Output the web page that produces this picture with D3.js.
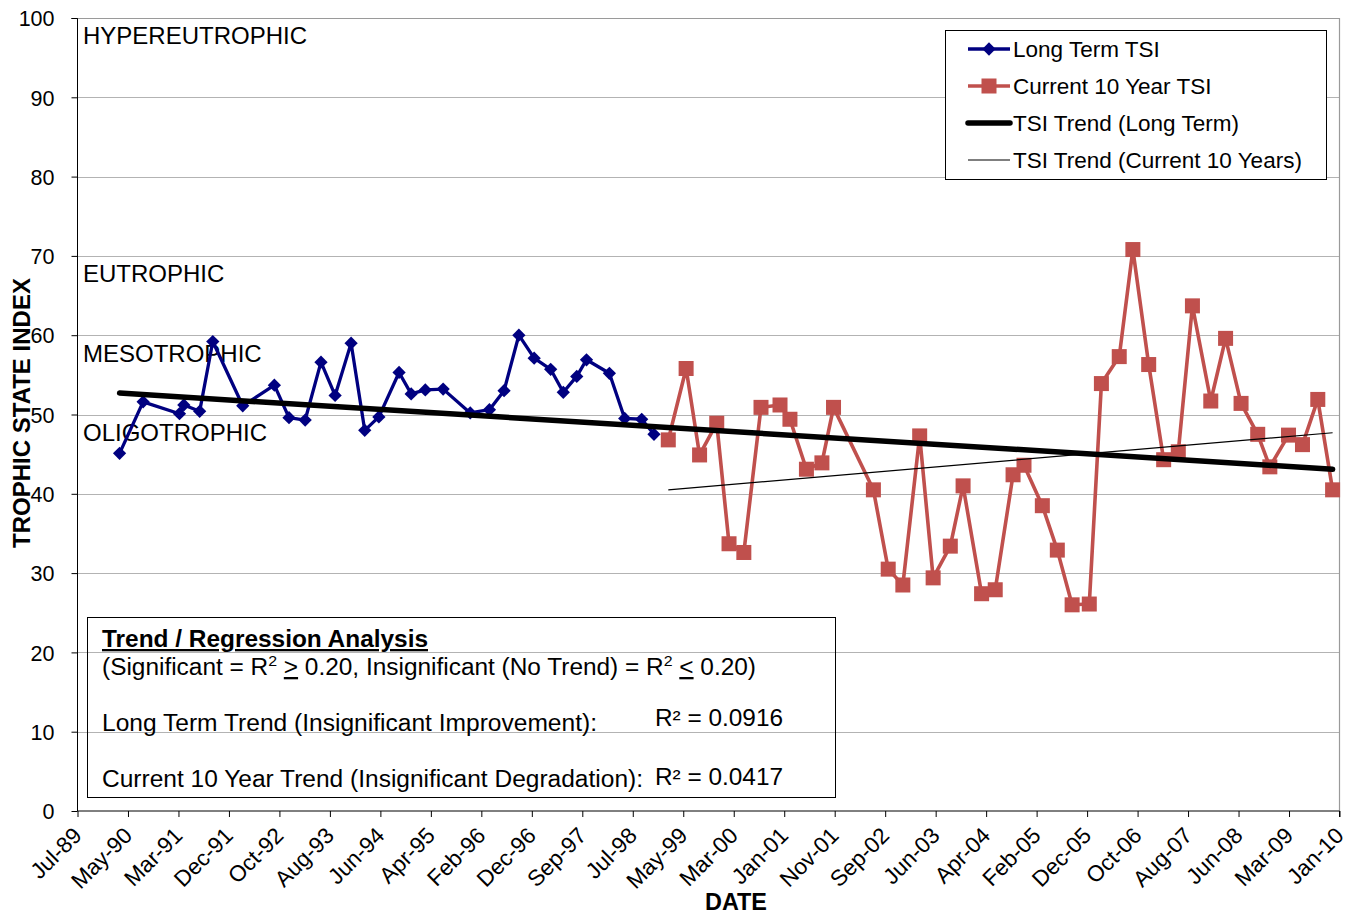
<!DOCTYPE html>
<html><head><meta charset="utf-8">
<script src="https://cdn.jsdelivr.net/npm/d3@7"></script>
<style>
body{margin:0;background:#fff;}
svg text{font-family:"Liberation Sans",Arial,sans-serif;fill:#000;}
</style></head>
<body><svg id="c" width="1354" height="915"></svg>
<script>
// ---- data ----
const longTermDates = ["1990-03-19","1990-08-06","1991-03-10","1991-04-05","1991-07-08","1991-09-24","1992-03-20","1992-09-24","1992-12-20","1993-03-26","1993-06-28","1993-09-20","1993-12-24","1994-03-15","1994-06-07","1994-10-05","1994-12-16","1995-03-10","1995-06-24","1995-12-02","1996-03-25","1996-06-20","1996-09-16","1996-12-16","1997-03-24","1997-06-07","1997-08-26","1997-10-23","1998-03-08","1998-06-07","1998-09-16","1998-11-28"];
const longTermTSI = [45.1,51.6,50.1,51.2,50.4,59.2,51.1,53.7,49.6,49.3,56.6,52.4,59.0,48.0,49.7,55.3,52.6,53.1,53.2,50.2,50.6,53.0,60.0,57.1,55.7,52.8,54.8,56.9,55.2,49.5,49.4,47.5];
const currentDates = ["1999-02-21","1999-06-07","1999-08-26","1999-12-06","2000-02-17","2000-05-15","2000-08-25","2000-12-16","2001-02-13","2001-05-22","2001-08-22","2001-10-30","2002-06-24","2002-09-20","2002-12-16","2003-03-26","2003-06-14","2003-09-24","2003-12-09","2004-03-28","2004-06-17","2004-10-01","2004-12-05","2005-03-24","2005-06-21","2005-09-17","2005-12-28","2006-03-10","2006-06-24","2006-09-13","2006-12-16","2007-03-15","2007-06-10","2007-09-02","2007-12-20","2008-03-17","2008-06-17","2008-09-24","2008-12-05","2009-03-26","2009-06-17","2009-09-16","2009-12-13"];
const currentTSI = [46.8,55.8,44.9,48.9,33.7,32.6,50.9,51.2,49.4,43.1,43.9,50.9,40.5,30.5,28.5,47.3,29.4,33.4,41.0,27.4,27.9,42.4,43.6,38.5,32.9,26.0,26.1,53.9,57.3,70.8,56.3,44.3,45.3,63.7,51.7,59.6,51.4,47.5,43.4,47.4,46.2,51.9,40.5];
const trendLongDates = ["1990-03-19","2009-12-13"];
const trendLongValues = [52.7,43.1];
const trendCurDates = ["1999-02-21","2009-12-13"];
const trendCurValues = [40.5,47.7];
const xTickLabels = ["Jul-89","May-90","Mar-91","Dec-91","Oct-92","Aug-93","Jun-94","Apr-95","Feb-96","Dec-96","Sep-97","Jul-98","May-99","Mar-00","Jan-01","Nov-01","Sep-02","Jun-03","Apr-04","Feb-05","Dec-05","Oct-06","Aug-07","Jun-08","Mar-09","Jan-10"];
const yTicks = [0,10,20,30,40,50,60,70,80,90,100];
const zoneLabels = ["HYPEREUTROPHIC","EUTROPHIC","MESOTROPHIC","OLIGOTROPHIC"];
const zoneValues = [98,68,58,48];
const seriesNames = ["Long Term TSI","Current 10 Year TSI","TSI Trend (Long Term)","TSI Trend (Current 10 Years)"];
const axisStart = "1989-07-12", tickStepDays = 300;

// ---- layout ----
const L=77.5, R=1339.5, T=18, B=811;
const parse = d3.utcParse("%Y-%m-%d");
const start = parse(axisStart);
const tickDates = xTickLabels.map((_,i)=>d3.utcDay.offset(start,i*tickStepDays));
const x = d3.scaleUtc().domain([start, tickDates[tickDates.length-1]]).range([L,R]);
const y = d3.scaleLinear().domain([0,100]).range([B,T]);
const svg = d3.select("#c");
svg.append("rect").attr("width",1354).attr("height",915).attr("fill","#fff");

// gridlines
svg.append("g").selectAll("line").data(yTicks.filter(v=>v>0&&v<100)).join("line")
  .attr("x1",L).attr("x2",R).attr("y1",d=>Math.round(y(d))+0.5).attr("y2",d=>Math.round(y(d))+0.5)
  .attr("stroke","#666").attr("stroke-width",1).attr("stroke-dasharray","1,1");
// plot border top/right
svg.append("path").attr("d",`M${L},${T+0.5}H${R}V${B}`).attr("fill","none").attr("stroke","#9a9a9a").attr("stroke-width",1.2);

// zone labels
svg.append("g").selectAll("text").data(zoneLabels).join("text")
  .attr("x",83).attr("y",(d,i)=>y(zoneValues[i])+10.5).attr("font-size",24).text(d=>d);

// axes
const yAxis = d3.axisLeft(y).tickValues(yTicks).tickSize(6).tickPadding(17).tickFormat(d3.format("d"));
const gy = svg.append("g").attr("transform",`translate(${L},0)`).call(yAxis);
gy.selectAll("text").attr("font-size",21.5).attr("dy","0.36em");
gy.selectAll("line,path").attr("stroke","#000");
gy.select(".domain").attr("d",`M-6,${T+0.5}H0V${B}`);

const xAxis = d3.axisBottom(x).tickValues(tickDates).tickSize(6).tickFormat((d,i)=>xTickLabels[i]);
const gx = svg.append("g").attr("transform",`translate(0,${B})`).call(xAxis);
gx.selectAll("line,path").attr("stroke","#000");
gx.select(".domain").attr("d",`M${L},0H${R}V6`);
gx.selectAll("text").attr("font-size",22.5).attr("text-anchor","end").attr("dy",null).attr("y",null)
  .attr("transform",d=>`translate(5,26) rotate(-45)`);

// titles
svg.append("text").attr("transform","translate(30,413) rotate(-90)").attr("text-anchor","middle")
  .attr("font-size",24).attr("font-weight","bold").text("TROPHIC STATE INDEX");
svg.append("text").attr("x",736).attr("y",910).attr("text-anchor","middle")
  .attr("font-size",24).attr("font-weight","bold").attr("textLength",62).attr("lengthAdjust","spacingAndGlyphs").text("DATE");

// series
const blue="#000080", red="#C0504D";
const lt = longTermDates.map((d,i)=>({x:parse(d),v:longTermTSI[i]}));
const ct = currentDates.map((d,i)=>({x:parse(d),v:currentTSI[i]}));
const line = d3.line().x(d=>x(d.x)).y(d=>y(d.v));
svg.append("path").datum(lt).attr("d",line).attr("fill","none").attr("stroke",blue).attr("stroke-width",3.3).attr("stroke-linejoin","round");
svg.append("path").datum(ct).attr("d",line).attr("fill","none").attr("stroke",red).attr("stroke-width",3.6).attr("stroke-linejoin","round");
const diamond = d3.symbol().type(d3.symbolSquare).size(88);
svg.append("g").selectAll("path").data(lt).join("path")
  .attr("d",diamond).attr("transform",d=>`translate(${x(d.x)},${y(d.v)}) rotate(45)`).attr("fill",blue);
svg.append("g").selectAll("rect").data(ct).join("rect")
  .attr("x",d=>x(d.x)-7.5).attr("y",d=>y(d.v)-7.5).attr("width",15).attr("height",15).attr("fill",red);

// trends
const tl = trendLongDates.map((d,i)=>({x:parse(d),v:trendLongValues[i]}));
const tc = trendCurDates.map((d,i)=>({x:parse(d),v:trendCurValues[i]}));
svg.append("path").datum(tl).attr("d",line).attr("fill","none").attr("stroke","#000").attr("stroke-width",5.5).attr("stroke-linecap","round");
svg.append("path").datum(tc).attr("d",line).attr("fill","none").attr("stroke","#000").attr("stroke-width",1.2);

// legend
const lg = svg.append("g");
lg.append("rect").attr("x",945.5).attr("y",30.5).attr("width",381).attr("height",149).attr("fill","#fff").attr("stroke","#000").attr("stroke-width",1);
const ly=[49,86,123,160];
seriesNames.forEach((n,i)=>{
  const g=lg.append("g");
  const st=[{c:blue,w:3.3},{c:red,w:3.6},{c:"#000",w:5.5},{c:"#000",w:1.2}][i];
  g.append("line").attr("x1",968).attr("x2",1010).attr("y1",ly[i]).attr("y2",ly[i]).attr("stroke",st.c).attr("stroke-width",st.w).attr("stroke-linecap",i==2?"round":"butt");
  if(i==0) g.append("path").attr("d",diamond).attr("transform",`translate(989,${ly[i]}) rotate(45)`).attr("fill",blue);
  if(i==1) g.append("rect").attr("x",981.5).attr("y",ly[i]-7.5).attr("width",15).attr("height",15).attr("fill",red);
  g.append("text").attr("x",1013).attr("y",ly[i]+7.5).attr("font-size",22.5).text(n);
});

// regression box
const bx = svg.append("g");
bx.append("rect").attr("x",87.5).attr("y",617.5).attr("width",748).attr("height",180).attr("fill","none").attr("stroke","#000").attr("stroke-width",1);
bx.append("text").attr("x",102).attr("y",647).attr("font-size",23).attr("font-weight","bold").attr("text-decoration","underline")
  .attr("textLength",326).attr("lengthAdjust","spacingAndGlyphs").text("Trend / Regression Analysis");
const t2 = bx.append("text").attr("x",102).attr("y",675).attr("font-size",23).attr("textLength",654).attr("lengthAdjust","spacingAndGlyphs");
t2.append("tspan").text("(Significant = R");
t2.append("tspan").attr("dy",-9).attr("font-size",15).text("2");
t2.append("tspan").attr("dy",9).text(" ");
t2.append("tspan").attr("text-decoration","underline").text(">");
t2.append("tspan").text(" 0.20, Insignificant (No Trend) = R");
t2.append("tspan").attr("dy",-9).attr("font-size",15).text("2");
t2.append("tspan").attr("dy",9).text(" ");
t2.append("tspan").attr("text-decoration","underline").text("<");
t2.append("tspan").text(" 0.20)");
bx.append("text").attr("x",102).attr("y",731).attr("font-size",23).attr("textLength",495).attr("lengthAdjust","spacingAndGlyphs").text("Long Term Trend (Insignificant Improvement):");
bx.append("text").attr("x",655).attr("y",726).attr("font-size",23).attr("textLength",128).attr("lengthAdjust","spacingAndGlyphs").text("R² = 0.0916");
bx.append("text").attr("x",102).attr("y",787).attr("font-size",23).attr("textLength",541).attr("lengthAdjust","spacingAndGlyphs").text("Current 10 Year Trend (Insignificant Degradation):");
bx.append("text").attr("x",655).attr("y",785).attr("font-size",23).attr("textLength",128).attr("lengthAdjust","spacingAndGlyphs").text("R² = 0.0417");
</script></body></html>
